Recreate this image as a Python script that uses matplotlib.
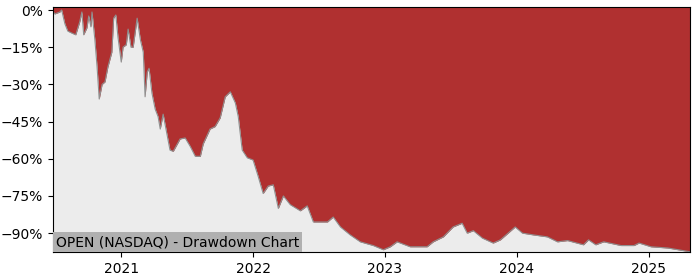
import matplotlib
matplotlib.use("Agg")
import matplotlib.pyplot as plt
import matplotlib.dates as mdates
from matplotlib import ticker
import pandas as pd

# drawdown of OPEN from its running peak, in percent
dates = [
    "2020-06-26", "2020-07-01", "2020-07-15", "2020-07-20", "2020-07-29",
    "2020-08-06", "2020-08-17", "2020-08-28", "2020-09-08", "2020-09-14",
    "2020-09-19", "2020-09-28", "2020-10-03", "2020-10-09", "2020-10-12",
    "2020-10-20", "2020-10-26", "2020-11-01", "2020-11-09", "2020-11-17",
    "2020-11-25", "2020-12-06", "2020-12-11", "2020-12-17", "2020-12-23",
    "2021-01-01", "2021-01-06", "2021-01-15", "2021-01-20", "2021-01-28",
    "2021-02-03", "2021-02-14", "2021-02-23", "2021-03-03", "2021-03-08",
    "2021-03-14", "2021-03-19", "2021-03-27", "2021-04-05", "2021-04-13",
    "2021-04-19", "2021-04-27", "2021-05-16", "2021-05-25", "2021-06-13",
    "2021-06-27", "2021-07-11", "2021-07-25", "2021-08-08", "2021-08-16",
    "2021-09-04", "2021-09-18", "2021-10-02", "2021-10-16", "2021-10-30",
    "2021-11-13", "2021-11-21", "2021-12-02", "2021-12-16", "2022-01-01",
    "2022-01-15", "2022-01-29", "2022-02-12", "2022-02-26", "2022-03-12",
    "2022-03-26", "2022-04-14", "2022-05-12", "2022-05-31", "2022-06-17",
    "2022-07-26", "2022-08-11", "2022-08-31", "2022-09-27", "2022-10-25",
    "2022-11-30", "2022-12-28", "2023-01-16", "2023-02-04", "2023-03-12",
    "2023-04-28", "2023-05-15", "2023-06-12", "2023-07-09", "2023-08-03",
    "2023-08-17", "2023-09-03", "2023-09-28", "2023-10-28", "2023-11-17",
    "2023-12-28", "2024-01-17", "2024-02-16", "2024-03-26", "2024-04-23",
    "2024-05-21", "2024-07-04", "2024-07-18", "2024-08-07", "2024-08-29",
    "2024-10-16", "2024-11-21", "2024-12-05", "2025-01-07", "2025-02-23",
    "2025-04-25",
]
drawdown = [
    -0.5, -1.6, -0.8, 0.0, -5.6,
    -8.5, -9.3, -10.0, -4.8, -0.8,
    -10.0, -7.2, -2.4, -6.8, -0.8,
    -12.0, -22.8, -35.9, -30.0, -29.0,
    -23.0, -17.0, -3.3, -2.0, -11.0,
    -21.0, -15.0, -14.0, -7.7, -15.0,
    -15.0, -3.3, -12.0, -17.0, -35.0,
    -25.0, -23.5, -33.5, -40.0, -43.0,
    -48.0, -42.0, -56.5, -57.0, -52.0,
    -51.6, -55.0, -59.0, -59.0, -54.0,
    -48.0, -47.0, -43.5, -35.0, -33.0,
    -37.5, -43.0, -56.5, -59.6, -60.5,
    -67.0, -74.0, -71.0, -70.5, -80.0,
    -75.0, -78.5, -81.0, -79.0, -85.5,
    -85.5, -83.5, -87.5, -90.7, -93.5,
    -95.0, -96.7, -95.5, -93.5, -95.5,
    -95.5, -93.5, -91.5, -87.5, -86.0,
    -90.0, -89.0, -92.0, -94.0, -92.7,
    -87.5, -90.0, -90.7, -91.5, -93.5,
    -93.0, -94.7, -92.7, -94.7, -93.5,
    -95.0, -95.0, -94.0, -95.5, -96.0,
    -97.5,
]

ticker_name = "OPEN (NASDAQ)"

x = pd.to_datetime(dates)

fig = plt.figure(figsize=(7, 2.8), dpi=100)
ax = fig.add_axes([0.0757, 0.1, 0.91, 0.874])

# red above the curve = axes background, grey fill below it
ax.set_facecolor("#b03030")
ax.fill_between(x, drawdown, -100, color="#ececec", lw=0)
ax.plot(x, drawdown, color="#909090", lw=0.8)

ax.set_xlim(x[0], x[-1])
ax.set_ylim(-97.6, 1.1)
ax.set_yticks([0, -15, -30, -45, -60, -75, -90])
ax.yaxis.set_major_formatter(ticker.PercentFormatter(decimals=0))
ax.xaxis.set_major_locator(mdates.YearLocator())
ax.xaxis.set_major_formatter(mdates.DateFormatter("%Y"))

ax.text(0.005, 0.012, ticker_name + " - Drawdown Chart", transform=ax.transAxes,
        fontsize=10, va="bottom", ha="left",
        bbox=dict(boxstyle="square,pad=0.2", facecolor="#b0b0b0", edgecolor="none"))

fig.savefig("out.png", dpi=100)
